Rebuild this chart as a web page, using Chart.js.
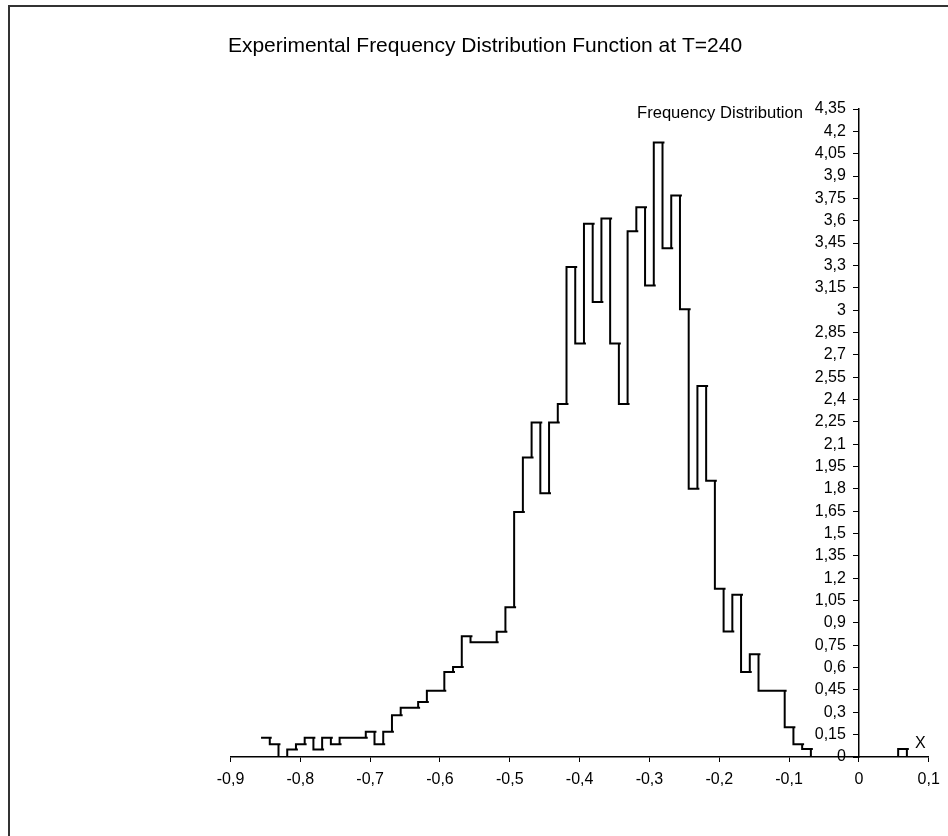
<!DOCTYPE html>
<html>
<head>
<meta charset="utf-8">
<title>Experimental Frequency Distribution Function at T=240</title>
<script src="https://cdn.jsdelivr.net/npm/chart.js@4.4.1/dist/chart.umd.min.js"></script>
<style>
  html, body { margin: 0; padding: 0; background: #fff; }
  #wrap { position: relative; width: 948px; height: 836px; }
</style>
</head>
<body>
<div id="wrap"><canvas id="myChart"></canvas></div>
<script>
// bin centres (x) and frequency per bin
const binCenters = [
  -0.85, -0.8375, -0.825, -0.8125, -0.8, -0.7875, -0.775, -0.7625, -0.75, -0.7375,
  -0.725, -0.7125, -0.7, -0.6875, -0.675, -0.6625, -0.65, -0.6375, -0.625, -0.6125,
  -0.6, -0.5875, -0.575, -0.5625, -0.55, -0.5375, -0.525, -0.5125, -0.5, -0.4875,
  -0.475, -0.4625, -0.45, -0.4375, -0.425, -0.4125, -0.4, -0.3875, -0.375, -0.3625,
  -0.35, -0.3375, -0.325, -0.3125, -0.3, -0.2875, -0.275, -0.2625, -0.25, -0.2375,
  -0.225, -0.2125, -0.2, -0.1875, -0.175, -0.1625, -0.15, -0.1375, -0.125, -0.1125,
  -0.1, -0.0875, -0.075, -0.0625, -0.05, -0.0375, -0.025, -0.0125, 0, 0.0125,
  0.025, 0.0375, 0.05, 0.0625, 0.075, 0.0875
];
const frequency = [
  0.13, 0.085, 0, 0.05, 0.085, 0.13, 0.05, 0.13, 0.085, 0.13,
  0.13, 0.13, 0.17, 0.085, 0.17, 0.28, 0.33, 0.33, 0.37, 0.445,
  0.445, 0.57, 0.605, 0.81, 0.77, 0.77, 0.77, 0.84, 1.005, 1.645,
  2.01, 2.245, 1.77, 2.245, 2.37, 3.29, 2.775, 3.58, 3.055, 3.615,
  2.775, 2.37, 3.53, 3.69, 3.165, 4.125, 3.415, 3.77, 3.005, 1.80,
  2.49, 1.855, 1.13, 0.843, 1.09, 0.57, 0.69, 0.445, 0.445, 0.445,
  0.2, 0.085, 0.054, 0, 0, 0, 0, 0, 0, 0,
  0, 0, 0, 0.054, 0, 0
];
const xTicks = [-0.9, -0.8, -0.7, -0.6, -0.5, -0.4, -0.3, -0.2, -0.1, 0, 0.1];
const yTicks = [0, 0.15, 0.3, 0.45, 0.6, 0.75, 0.9, 1.05, 1.2, 1.35, 1.5, 1.65, 1.8, 1.95,
  2.1, 2.25, 2.4, 2.55, 2.7, 2.85, 3, 3.15, 3.3, 3.45, 3.6, 3.75, 3.9, 4.05, 4.2, 4.35];
const chartTitle = 'Experimental Frequency Distribution Function at T=240';
const yTitle = 'Frequency Distribution';
const xTitle = 'X';

// each bin is a flat step; the pen overshoots a little and comes back (like the original)
const binWidth = 0.0125;
const overshoot = 0.0028;
const stepPoints = [];
binCenters.forEach((c, i) => {
  stepPoints.push({x: c - binWidth / 2, y: frequency[i]});
  stepPoints.push({x: c + binWidth / 2 + overshoot, y: frequency[i]});
  stepPoints.push({x: c + binWidth / 2, y: frequency[i]});
});

const FONT = '"Liberation Sans", Arial, sans-serif';
const comma = v => String(Number(v.toFixed(2))).replace('.', ',');

//text + frame plugin
const labelsPlugin = {
  id: 'labels',
  afterDraw(chart) {
    const ctx = chart.ctx;
    const xs = chart.scales.x, ys = chart.scales.y;
    ctx.save();
    ctx.strokeStyle = '#333';
    ctx.lineWidth = 2;
    ctx.strokeRect(9, 6, 1000, 1000);
    ctx.fillStyle = '#000';

    // y tick labels, left of the axis that sits at x = 0
    ctx.font = '16px ' + FONT;
    ctx.textAlign = 'right';
    ctx.textBaseline = 'middle';
    const axisX = xs.getPixelForValue(0);
    ys.ticks.forEach(t => {
      ctx.fillText(comma(t.value), axisX - 13, ys.getPixelForValue(t.value));
    });

    ctx.textBaseline = 'alphabetic';
    ctx.font = '21px ' + FONT;
    ctx.textAlign = 'center';
    ctx.fillText(chartTitle, 485, 52);
    ctx.font = '16.6px ' + FONT;
    ctx.textAlign = 'right';
    ctx.fillText(yTitle, 803, 118);
    ctx.font = '16px ' + FONT;
    ctx.textAlign = 'left';
    ctx.fillText(xTitle, 915, 748);
    ctx.restore();
  }
};

//config block
const config = {
  type: 'scatter',
  data: {
    datasets: [{
      data: stepPoints,
      showLine: true,
      borderColor: '#000',
      borderWidth: 2,
      borderJoinStyle: 'miter',
      pointRadius: 0,
      tension: 0
    }]
  },
  options: {
    responsive: true,
    maintainAspectRatio: false,
    animation: false,
    layout: {padding: {left: 230.5, right: 19.3, top: 109, bottom: 38.8}},
    plugins: {legend: {display: false}, tooltip: {enabled: false}},
    scales: {
      x: {
        type: 'linear',
        min: -0.9,
        max: 0.1,
        afterBuildTicks: s => { s.ticks = xTicks.map(v => ({value: v})); },
        grid: {drawOnChartArea: false, drawTicks: true, tickLength: 5, color: '#000'},
        border: {display: true, color: '#000', width: 1.5},
        ticks: {color: '#000', padding: 8, maxRotation: 0, autoSkip: false,
          font: {family: FONT, size: 16}, callback: v => comma(v)}
      },
      y: {
        type: 'linear',
        position: {x: 0},
        min: 0,
        max: 4.35,
        afterBuildTicks: s => { s.ticks = yTicks.map(v => ({value: v})); },
        grid: {drawOnChartArea: false, drawTicks: true, tickLength: 5, color: '#000'},
        border: {display: true, color: '#000', width: 1.5},
        ticks: {display: false}
      }
    }
  },
  plugins: [labelsPlugin]
};

//render block
const myChart = new Chart(document.getElementById('myChart'), config);
</script>
</body>
</html>
